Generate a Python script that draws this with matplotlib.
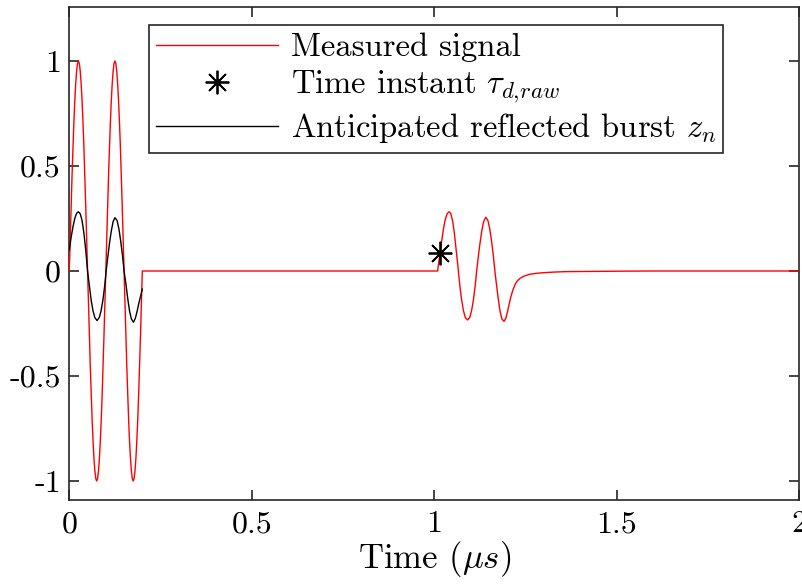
import matplotlib
matplotlib.use("Agg")
import matplotlib.pyplot as plt

# ---- data ----
# measured signal: excitation burst (0 - 0.2 us)
t_excite = [0.0000, 0.0025, 0.0050, 0.0075, 0.0100, 0.0125, 0.0150, 0.0175, 0.0200, 0.0225,
            0.0250, 0.0275, 0.0300, 0.0325, 0.0350, 0.0375, 0.0400, 0.0425, 0.0450, 0.0475,
            0.0500, 0.0525, 0.0550, 0.0575, 0.0600, 0.0625, 0.0650, 0.0675, 0.0700, 0.0725,
            0.0750, 0.0775, 0.0800, 0.0825, 0.0850, 0.0875, 0.0900, 0.0925, 0.0950, 0.0975,
            0.1000, 0.1025, 0.1050, 0.1075, 0.1100, 0.1125, 0.1150, 0.1175, 0.1200, 0.1225,
            0.1250, 0.1275, 0.1300, 0.1325, 0.1350, 0.1375, 0.1400, 0.1425, 0.1450, 0.1475,
            0.1500, 0.1525, 0.1550, 0.1575, 0.1600, 0.1625, 0.1650, 0.1675, 0.1700, 0.1725,
            0.1750, 0.1775, 0.1800, 0.1825, 0.1850, 0.1875, 0.1900, 0.1925, 0.1950, 0.1975,
            0.2000]
v_excite = [0.000, 0.156, 0.309, 0.454, 0.588, 0.707, 0.809, 0.891, 0.951, 0.988,
            1.000, 0.988, 0.951, 0.891, 0.809, 0.707, 0.588, 0.454, 0.309, 0.156,
            0.000, -0.156, -0.309, -0.454, -0.588, -0.707, -0.809, -0.891, -0.951, -0.988,
            -1.000, -0.988, -0.951, -0.891, -0.809, -0.707, -0.588, -0.454, -0.309, -0.156,
            0.000, 0.156, 0.309, 0.454, 0.588, 0.707, 0.809, 0.891, 0.951, 0.988,
            1.000, 0.988, 0.951, 0.891, 0.809, 0.707, 0.588, 0.454, 0.309, 0.156,
            0.000, -0.156, -0.309, -0.454, -0.588, -0.707, -0.809, -0.891, -0.951, -0.988,
            -1.000, -0.988, -0.951, -0.891, -0.809, -0.707, -0.588, -0.454, -0.309, -0.156,
            0.000]
# measured signal: reflected burst and tail
t_reflect = [1.009, 1.012, 1.016, 1.020, 1.025, 1.030, 1.035, 1.040, 1.045, 1.050,
             1.055, 1.060, 1.066, 1.070, 1.075, 1.080, 1.085, 1.091, 1.097, 1.102,
             1.107, 1.112, 1.116, 1.120, 1.125, 1.130, 1.135, 1.141, 1.147, 1.152,
             1.157, 1.162, 1.166, 1.170, 1.175, 1.180, 1.185, 1.191, 1.196, 1.201,
             1.206, 1.211, 1.216, 1.222, 1.228, 1.235, 1.245, 1.260, 1.280, 1.300,
             1.330, 1.360, 1.420, 1.500, 1.600, 2.000]
v_reflect = [0.000, 0.040, 0.085, 0.140, 0.200, 0.245, 0.272, 0.282, 0.275, 0.240,
             0.180, 0.100, 0.000, -0.070, -0.140, -0.190, -0.222, -0.233, -0.222, -0.190,
             -0.140, -0.070, 0.000, 0.060, 0.130, 0.190, 0.235, 0.256, 0.240, 0.200,
             0.140, 0.070, 0.000, -0.060, -0.130, -0.190, -0.228, -0.240, -0.225, -0.190,
             -0.150, -0.115, -0.087, -0.062, -0.046, -0.035, -0.025, -0.016, -0.011, -0.008,
             -0.005, -0.003, -0.002, -0.001, 0.000, 0.000]
# time instant tau_d,raw
tau_t = [1.016]
tau_v = [0.085]
# anticipated reflected burst z_n
t_z = [0.000, 0.005, 0.010, 0.015, 0.020, 0.025, 0.030, 0.035, 0.040, 0.045,
       0.050, 0.055, 0.060, 0.065, 0.070, 0.076, 0.082, 0.087, 0.092, 0.097,
       0.101, 0.105, 0.110, 0.115, 0.120, 0.125, 0.131, 0.136, 0.141, 0.146,
       0.150, 0.155, 0.160, 0.165, 0.170, 0.176, 0.181, 0.186, 0.191, 0.196,
       0.200]
v_z = [0.100, 0.160, 0.210, 0.250, 0.275, 0.282, 0.272, 0.240, 0.180, 0.100,
       0.000, -0.070, -0.140, -0.190, -0.222, -0.236, -0.222, -0.190, -0.140, -0.070,
       0.000, 0.060, 0.130, 0.190, 0.235, 0.254, 0.240, 0.200, 0.140, 0.070,
       0.000, -0.060, -0.130, -0.190, -0.228, -0.244, -0.225, -0.190, -0.150, -0.115,
       -0.086]

x_ticks = [0, 0.5, 1, 1.5, 2]
x_ticklabels = ["0", "0.5", "1", "1.5", "2"]
y_ticks = [-1, -0.5, 0, 0.5, 1]
y_ticklabels = ["-1", "-0.5", "0", "0.5", "1"]

# ---- style ----
plt.rcParams["font.family"] = ["cmr10", "DejaVu Serif"]
plt.rcParams["mathtext.fontset"] = "cm"
plt.rcParams["axes.unicode_minus"] = False

AX = "#262626"
FS_TICK = 23
FS_LEG = 23.5
FS_LAB = 25

fig = plt.figure(figsize=(8.03, 5.84), dpi=100)
ax = fig.add_axes([69.3 / 803, (584 - 499.5) / 584, 730 / 803, 492.5 / 584])

t_meas = t_excite + t_reflect
v_meas = v_excite + v_reflect
ax.plot(t_meas, v_meas, color="#ff0000", lw=1.0, label="Measured signal", zorder=3)
ax.plot(tau_t, tau_v, linestyle="none", marker=(8, 2, 0), markersize=17,
        markeredgewidth=1.3, color="black", label=r"Time instant $\tau_{d,\!raw}$", zorder=4)
ax.plot(t_z, v_z, color="black", lw=1.0, label=r"Anticipated reflected burst $z_n$", zorder=3)

ax.set_xlim(0, 2)
ax.set_ylim(-1.088, 1.257)
ax.set_xticks(x_ticks)
ax.set_xticklabels(x_ticklabels)
ax.set_yticks(y_ticks)
ax.set_yticklabels(y_ticklabels)
ax.tick_params(direction="in", length=7, width=1.2, colors=AX, labelcolor="black",
               labelsize=FS_TICK, top=True, right=True)
ax.tick_params(axis="x", pad=8)
ax.tick_params(axis="y", pad=6)
for s in ax.spines.values():
    s.set_color(AX)
    s.set_linewidth(1.2)

ax.set_xlabel(r"Time ($\mu s$)", fontsize=FS_LAB, labelpad=1)

leg = ax.legend(loc="upper left", bbox_to_anchor=(0.109, 0.963), borderaxespad=0,
                fontsize=FS_LEG, frameon=True, fancybox=False, handlelength=3.75,
                handletextpad=0.37, borderpad=0.22, labelspacing=0.2)
leg.get_frame().set_edgecolor(AX)
leg.get_frame().set_linewidth(1.2)
leg.get_frame().set_alpha(1)

fig.savefig("out.png", dpi=100)
